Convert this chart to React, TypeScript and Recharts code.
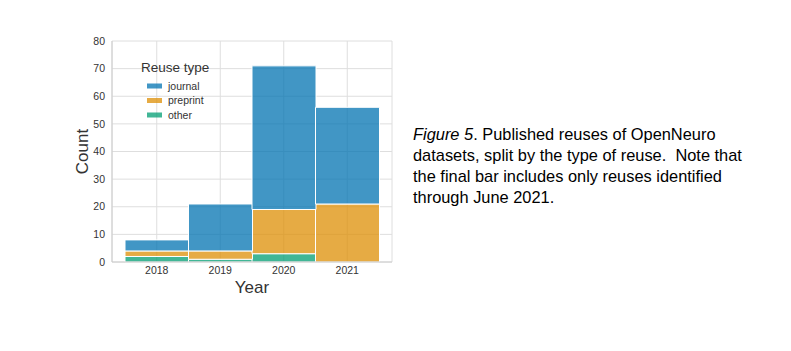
import React from 'react';
import { BarChart, Bar, XAxis, YAxis, CartesianGrid } from 'recharts';

const years = ['2018', '2019', '2020', '2021'];
const other = [2, 1, 3, 0];
const preprint = [2, 3, 16, 21];
const journal = [4, 17, 52, 35];
const yTicks = [0, 10, 20, 30, 40, 50, 60, 70, 80];

const seriesNames = ['journal', 'preprint', 'other'];
const seriesColors: Record<string, string> = {
  journal: '#0173b2',
  preprint: '#de8f05',
  other: '#029e73',
};

const data = years.map((y, i) => ({
  year: y,
  other: other[i],
  preprint: preprint[i],
  journal: journal[i],
}));

const FONT = '"Liberation Sans", Arial, Helvetica, sans-serif';

const LegendBox = () => (
  <svg width={110} height={70} style={{ position: 'absolute', left: 139, top: 55, overflow: 'visible' }}>
    <text x={2} y={17} fontSize={13.5} fill="#333" fontFamily={FONT}>Reuse type</text>
    {seriesNames.map((n, i) => (
      <g key={n}>
        <rect x={8} y={28.5 + i * 14.5} width={15} height={5} fill={seriesColors[n]} fillOpacity={0.75} />
        <text x={29} y={31 + i * 14.5} dy="0.35em" fontSize={10.5} fill="#333" fontFamily={FONT}>{n}</text>
      </g>
    ))}
  </svg>
);

export default function App() {
  return (
    <div style={{ position: 'absolute', left: 0, top: 0, width: 791, height: 351, background: '#fff', fontFamily: FONT }}>
      <BarChart
        width={791}
        height={351}
        data={data}
        margin={{ top: 41, right: 399, left: 0, bottom: 49 }}
        barCategoryGap={0}
        barGap={0}
      >
        <CartesianGrid stroke="#dedede" strokeWidth={1} />
        <XAxis
          dataKey="year"
          ticks={years}
          height={40}
          padding={{ left: 13, right: 13 }}
          tickLine={false}
          tickSize={0}
          tickMargin={5}
          axisLine={{ stroke: '#cccccc' }}
          tick={{ fontSize: 10.5, fill: '#333', fontFamily: FONT }}
          label={{
            content: (p: any) => {
              const vb = p.viewBox || {};
              return (
                <text x={vb.x + vb.width / 2} y={vb.y + 25} dy="0.35em" textAnchor="middle" fontSize={17} fill="#333" fontFamily={FONT}>Year</text>
              );
            },
          }}
        />
        <YAxis
          width={112}
          domain={[0, 80]}
          ticks={yTicks}
          tickLine={false}
          tickSize={0}
          tickMargin={7}
          axisLine={{ stroke: '#cccccc' }}
          tick={{ fontSize: 10.5, fill: '#333', fontFamily: FONT }}
          label={{
            content: (p: any) => {
              const vb = p.viewBox || {};
              const cx = 82;
              const cy = vb.y + vb.height / 2;
              return (
                <text x={cx} y={cy} dy="0.35em" textAnchor="middle" transform={`rotate(-90 ${cx} ${cy})`} fontSize={17} fill="#333" fontFamily={FONT}>Count</text>
              );
            },
          }}
        />
        <Bar dataKey="other" stackId="a" fill={seriesColors.other} fillOpacity={0.75} stroke="#fff" strokeWidth={1} isAnimationActive={false} />
        <Bar dataKey="preprint" stackId="a" fill={seriesColors.preprint} fillOpacity={0.75} stroke="#fff" strokeWidth={1} isAnimationActive={false} />
        <Bar dataKey="journal" stackId="a" fill={seriesColors.journal} fillOpacity={0.75} stroke="#fff" strokeWidth={1} isAnimationActive={false} />
      </BarChart>
      <LegendBox />
      <div
        style={{
          position: 'absolute',
          left: 413,
          top: 124,
          fontSize: 16.4,
          lineHeight: '21px',
          color: '#000',
          fontFamily: FONT,
          whiteSpace: 'nowrap',
        }}
      >
        <i>Figure 5</i>. Published reuses of OpenNeuro<br />
        datasets, split by the type of reuse.&nbsp; Note that<br />
        the final bar includes only reuses identified<br />
        through June 2021.
      </div>
    </div>
  );
}
